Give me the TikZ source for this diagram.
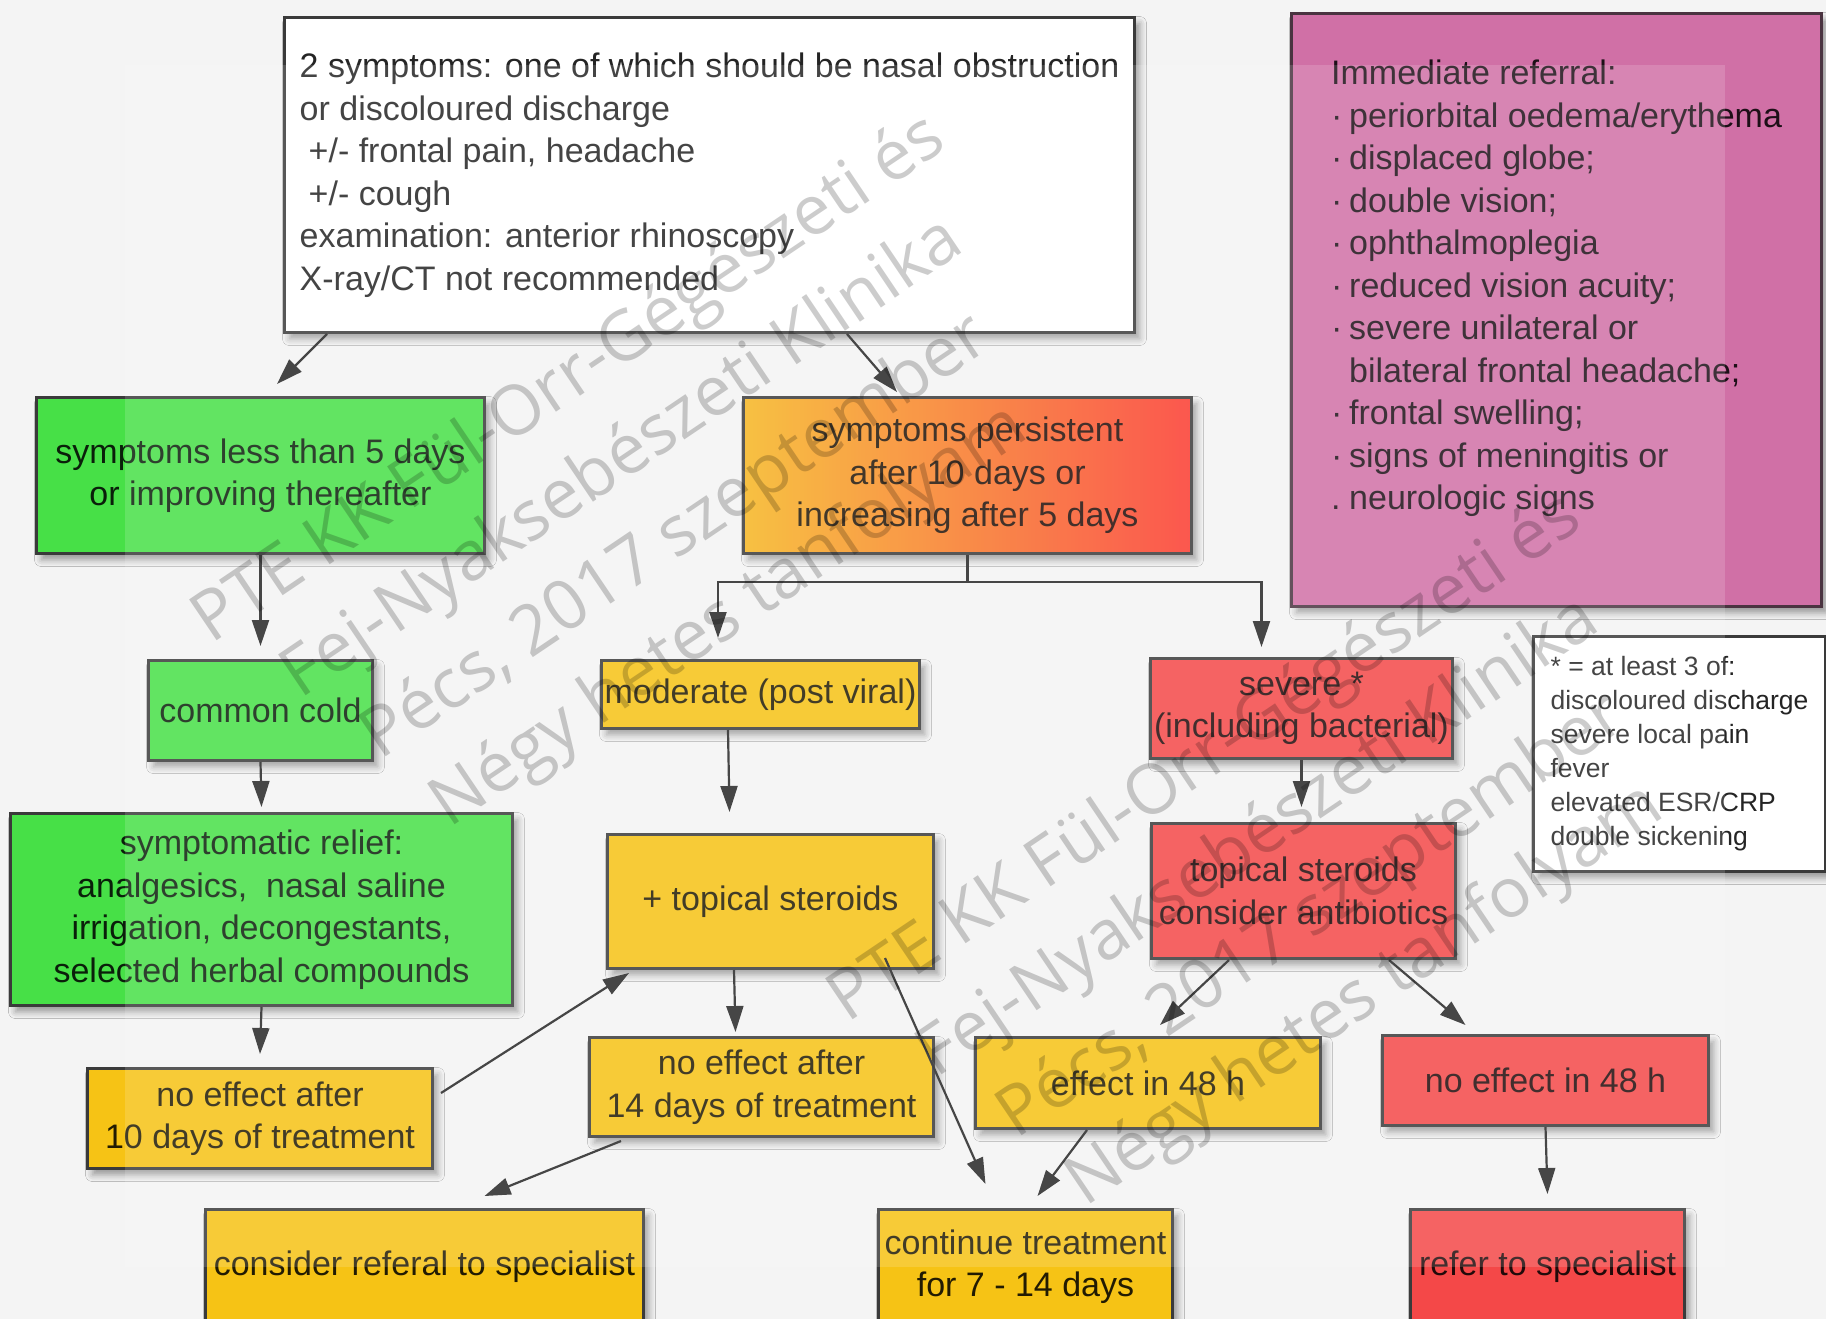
\documentclass[tikz,border=0pt]{standalone}
\usepackage{fontspec}
\setmainfont{Liberation Sans}
\newfontfamily\wmfont{Open Sans}
\usetikzlibrary{arrows.meta,shadows.blur}

\definecolor{bg}{HTML}{F4F4F4}
\definecolor{boxgreen}{HTML}{47E047}
\definecolor{boxyellow}{HTML}{F6C315}
\definecolor{boxred}{HTML}{F44848}
\definecolor{boxpink}{HTML}{D070A6}
\definecolor{edge}{HTML}{3A3A3A}
\definecolor{pinkedge}{HTML}{4A3340}
\definecolor{gradl}{HTML}{F6B622}
\definecolor{gradm}{HTML}{F8922A}
\definecolor{gradr}{HTML}{FB3A30}
\definecolor{wire}{HTML}{262626}

\begin{document}
\begin{tikzpicture}[x=1pt,y=-1pt,
  box/.style={draw=edge, line width=3pt, inner sep=2pt, align=center,
    anchor=north west, text=black, text opacity=0.86,
    font=\fontsize{34}{42.5}\selectfont,
    blur shadow={shadow xshift=5pt, shadow yshift=-6pt,
      shadow blur radius=7pt, shadow opacity=40}},
  greenbox/.style={box, fill=boxgreen},
  yellowbox/.style={box, fill=boxyellow},
  redbox/.style={box, fill=boxred},
  whitebox/.style={box, fill=white},
  flow/.style={draw=wire, line width=2.2pt, -{Triangle[length=26pt,width=17pt]}},
  stem/.style={draw=wire, line width=2.2pt},
  watermark/.style={rotate=34, text=black, text opacity=0.2, align=center,
    font=\wmfont\fontsize{69}{95}\selectfont},
]
\useasboundingbox (0,0) rectangle (1826,1319);
\clip (0,0) rectangle (1826,1319);
\fill[bg] (0,0) rectangle (1826,1319);

% ---- boxes ----
\node[whitebox, align=left, minimum width=850pt, minimum height=315pt] (top) at (283,16)
  {2 symptoms: one of which should be nasal obstruction\\
   or discoloured discharge\\
   \hspace*{9pt}+/- frontal pain, headache\\
   \hspace*{9pt}+/- cough\\
   examination: anterior rhinoscopy\\
   X-ray/CT not recommended};

\node[box, fill=boxpink, draw=pinkedge, minimum width=530pt, minimum height=593pt] (urgent) at (1290,12) {};
\node[anchor=north west, inner sep=0pt, align=left, text=black, text opacity=0.86,
      font=\fontsize{34}{42.5}\selectfont] (urgenttxt) at (1331,60)
  {Immediate referral:\\
   \makebox[18pt][l]{·}periorbital oedema/erythema\\
   \makebox[18pt][l]{·}displaced globe;\\
   \makebox[18pt][l]{·}double vision;\\
   \makebox[18pt][l]{·}ophthalmoplegia\\
   \makebox[18pt][l]{·}reduced vision acuity;\\
   \makebox[18pt][l]{·}severe unilateral or\\
   \makebox[18pt][l]{}bilateral frontal headache;\\
   \makebox[18pt][l]{·}frontal swelling;\\
   \makebox[18pt][l]{·}signs of meningitis or\\
   \makebox[18pt][l]{.}neurologic signs};

\node[greenbox, minimum width=448pt, minimum height=156pt] (less5) at (35,396)
  {symptoms less than 5 days\\or improving thereafter};
\node[box, left color=gradl, middle color=gradm, right color=gradr,
      minimum width=448pt, minimum height=156pt] (persist) at (742,396)
  {symptoms persistent\\after 10 days or\\increasing after 5 days};

\node[greenbox, minimum width=224pt, minimum height=100pt] (cold) at (147,659) {common cold};
\node[yellowbox, minimum width=318pt, minimum height=68pt] (moderate) at (600,659) {moderate (post viral)};
\node[redbox, minimum width=302pt, minimum height=100pt] (severe) at (1149,657)
  {severe *\\(including bacterial)};
\node[whitebox, align=left, minimum width=292pt, minimum height=235pt,
      font=\fontsize{26.5}{34}\selectfont] (criteria) at (1532,635)
  {* = at least 3 of:\\discoloured discharge\\severe local pain\\fever\\elevated ESR/CRP\\double sickening};

\node[greenbox, minimum width=502pt, minimum height=192pt] (relief) at (9,812)
  {symptomatic relief:\\analgesics,\ \ nasal saline\\irrigation, decongestants,\\selected herbal compounds};
\node[yellowbox, minimum width=326pt, minimum height=134pt] (topst) at (606,833) {+ topical steroids};
\node[redbox, minimum width=304pt, minimum height=135pt] (antib) at (1150,822)
  {topical steroids\\consider antibiotics};

\node[yellowbox, minimum width=345pt, minimum height=100pt] (noeff10) at (86,1067)
  {no effect after\\10 days of treatment};
\node[yellowbox, minimum width=344pt, minimum height=99pt] (noeff14) at (588,1036)
  {no effect after\\14 days of treatment};
\node[yellowbox, minimum width=345pt, minimum height=91pt] (eff48) at (974,1036) {effect in 48 h};
\node[redbox, minimum width=326pt, minimum height=90pt] (noeff48) at (1381,1034) {no effect in 48 h};

\node[yellowbox, minimum width=438pt, minimum height=114pt] (referal) at (204,1208)
  {consider referal to specialist};
\node[yellowbox, minimum width=294pt, minimum height=114pt] (continue) at (877,1208)
  {continue treatment\\for 7 - 14 days};
\node[redbox, minimum width=274pt, minimum height=114pt] (refer) at (1409,1208) {refer to specialist};

% ---- connectors ----
\draw[flow] ([xshift=44pt]top.south west) -- ([xshift=242pt,yshift=12pt]less5.north west);
\draw[flow] ([xshift=564pt]top.south west) -- ([xshift=155pt,yshift=4pt]persist.north west);
\draw[flow] (less5.south) -- ([yshift=13pt]cold.north);

\coordinate (split) at ([yshift=-27pt]persist.south);
\draw[stem] (persist.south) -- (split);
\draw[flow] (split) -| ([xshift=118pt,yshift=21pt]moderate.north west);
\draw[flow] (split) -| ([xshift=-40pt,yshift=10pt]severe.north);

\draw[flow] (cold.south) -- ([yshift=5pt]relief.north);
\draw[flow] ([xshift=128pt]moderate.south west) -- ([xshift=-41pt,yshift=21pt]topst.north);
\draw[flow] (severe.south) -- ([xshift=-2pt,yshift=15pt]antib.north);
\draw[flow] (relief.south) -- ([yshift=13pt]noeff10.north);
\draw[flow] ([xshift=128pt]topst.south west) -- ([xshift=-26pt,yshift=4pt]noeff14.north);
\draw[flow] ([xshift=7pt,yshift=-26pt]noeff10.north east) -- ([xshift=23pt,yshift=-3pt]topst.south west);
\draw[flow] ([xshift=33pt,yshift=-3pt]noeff14.south west) -- ([xshift=60pt,yshift=12pt]referal.north);
\draw[flow] ([xshift=-50pt,yshift=12pt]topst.south east) -- ([xshift=-40pt,yshift=24pt]continue.north);
\draw[flow] ([xshift=79pt]antib.south west) -- ([xshift=12pt,yshift=11pt]eff48.north);
\draw[flow] ([xshift=-68pt]antib.south east) -- ([xshift=-80pt,yshift=9pt]noeff48.north);
\draw[flow] ([xshift=-61pt]eff48.south) -- ([xshift=12pt,yshift=12pt]continue.north);
\draw[flow] (noeff48.south) -- ([yshift=14pt]refer.north);

% ---- faint white veil and watermark lettering ----
\fill[white, opacity=0.15] (125,65) rectangle (1725,1267);
\node[watermark] (wmA) at (650,499)
  {PTE KK Fül-Orr-Gégészeti és\\Fej-Nyaksebészeti Klinika\\Pécs, 2017 szeptember\\Négy hetes tanfolyam};
\node[watermark] (wmB) at (1286,878)
  {PTE KK Fül-Orr-Gégészeti és\\Fej-Nyaksebészeti Klinika\\Pécs, 2017 szeptember\\Négy hetes tanfolyam};
\end{tikzpicture}
\end{document}
